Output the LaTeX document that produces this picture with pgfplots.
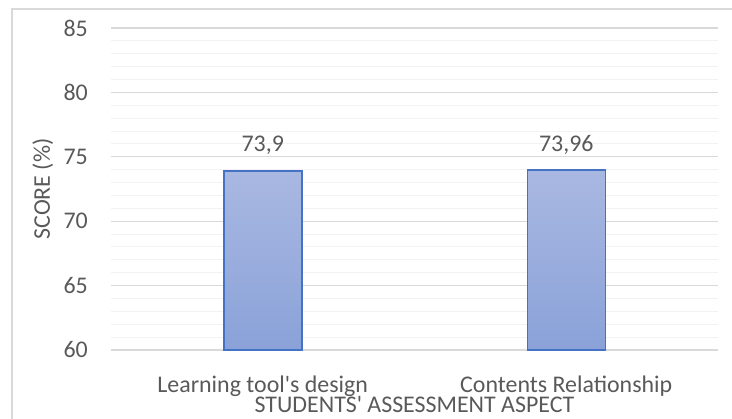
\documentclass[border=0pt]{standalone}
\usepackage{pgfplots}
\pgfplotsset{compat=1.18}
\usepackage{fontspec}
\setmainfont{Carlito}
\definecolor{txt}{HTML}{595959}
\definecolor{majgrid}{HTML}{D9D9D9}
\definecolor{mingrid}{HTML}{F2F2F2}
\definecolor{barline}{HTML}{4472C4}
\definecolor{bartop}{HTML}{A9B8E1}
\definecolor{barbot}{HTML}{8AA2D9}
\begin{document}
\begin{tikzpicture}[x=1bp,y=1bp]
\useasboundingbox (0,0) rectangle (732,418);
\draw[color=majgrid, line width=1.2bp] (12,-2) -- (12,409) -- (734,409);
\begin{axis}[
  at={(111bp,68bp)}, anchor=south west,
  scale only axis, width=607bp, height=322bp,
  xmin=-0.5, xmax=1.5, ymin=60, ymax=85,
  xtick={0,1},
  xticklabels={Learning tool\textquotesingle s design, Contents Relationship},
  ytick={60,65,70,75,80,85},
  minor y tick num=4,
  ymajorgrids, yminorgrids,
  major grid style={color=majgrid, line width=1.1bp},
  minor grid style={color=mingrid, line width=1bp},
  axis line style={draw=none},
  major tick length=0pt, minor tick length=0pt,
  /pgf/number format/assume math mode=true,
  tick label style={font=\fontsize{24}{28}\selectfont, text=txt},
  yticklabel style={anchor=east, inner sep=0pt, xshift=-23bp},
  xticklabel style={anchor=base, yshift=-42bp, inner sep=0pt},
  xlabel={STUDENTS\textquotesingle{} ASSESSMENT ASPECT},
  ylabel={SCORE (\%)},
  label style={font=\fontsize{24}{28}\selectfont, text=txt},
  xlabel style={at={(axis description cs:0.5,0)}, anchor=base, yshift=-62bp, inner sep=0pt},
  ylabel style={at={(axis description cs:0,0.5)}, anchor=base, yshift=61bp, inner sep=0pt},
  clip=true,
]
\addplot[ybar, bar width=78bp, draw=barline, line width=1.5bp,
  top color=bartop, bottom color=barbot,
  nodes near coords, point meta=explicit symbolic,
  nodes near coords style={font=\fontsize{24}{28}\selectfont, text=txt, anchor=base, yshift=19bp, inner sep=0pt}]
  coordinates {(0,73.9) [73,9] (1,73.96) [73,96]};
\end{axis}
\end{tikzpicture}
\end{document}
